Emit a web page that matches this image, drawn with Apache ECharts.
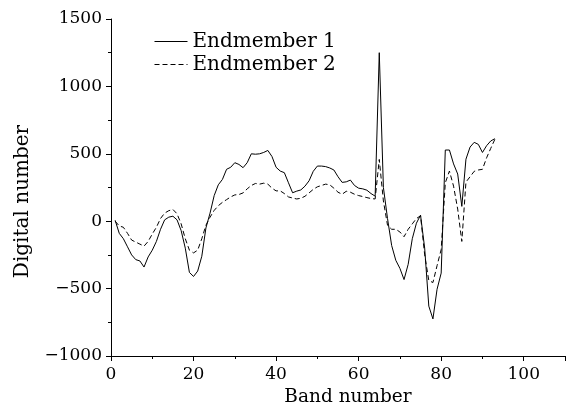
<!DOCTYPE html>
<html>
<head>
<meta charset="utf-8">
<script src="https://cdn.jsdelivr.net/npm/echarts@6/dist/echarts.min.js"></script>
<style>
  html, body { margin: 0; padding: 0; background: #fff; }
  #chart { width: 571px; height: 412px; }
</style>
</head>
<body>
<div id="chart"></div>
<script>
// band numbers 1..93
const bands = [
  1, 2, 3, 4, 5, 6, 7, 8, 9, 10, 11, 12, 13, 14, 15, 16, 17, 18, 19, 20,
  21, 22, 23, 24, 25, 26, 27, 28, 29, 30, 31, 32, 33, 34, 35, 36, 37, 38, 39, 40,
  41, 42, 43, 44, 45, 46, 47, 48, 49, 50, 51, 52, 53, 54, 55, 56, 57, 58, 59, 60,
  61, 62, 63, 64, 65, 66, 67, 68, 69, 70, 71, 72, 73, 74, 75, 76, 77, 78, 79, 80,
  81, 82, 83, 84, 85, 86, 87, 88, 89, 90, 91, 92, 93
];

const endmember1 = [
  7, -90, -130, -190, -250, -285, -295, -340, -265, -215,
  -150, -60, 10, 30, 37, 10, -70, -200, -380, -410,
  -370, -260, -50, 60, 190, 270, 310, 385, 400, 434,
  421, 397, 434, 500, 497, 500, 510, 525, 480, 400,
  372, 360, 285, 211, 223, 232, 260, 300, 370, 409,
  409, 405, 395, 380, 330, 288, 292, 305, 265, 245,
  240, 230, 205, 186, 1250, 250, 20, -180, -290, -350,
  -433, -320, -130, -15, 45, -200, -630, -725, -505, -385,
  528, 528, 425, 350, 110, 460, 550, 585, 570, 510,
  560, 595, 612
];

const endmember2 = [
  0, -35, -45, -90, -140, -155, -170, -185, -150, -95,
  -45, 20, 60, 78, 87, 55, -20, -130, -215, -235,
  -215, -130, -30, 30, 80, 115, 140, 160, 180, 195,
  198, 210, 240, 265, 280, 275, 282, 275, 245, 225,
  225, 205, 180, 172, 165, 170, 185, 210, 236, 255,
  265, 275, 270, 245, 215, 200, 222, 215, 200, 190,
  183, 175, 168, 165, 458, 150, -30, -60, -60, -80,
  -115, -60, -20, 20, 40, -250, -440, -455, -330, -210,
  285, 372, 260, 90, -150, 290, 330, 370, 380, 385,
  470, 540, 607
];

const seriesNames = ["Endmember 1", "Endmember 2"];

const font = "'DejaVu Serif', serif";

function pairs(vals) {
  return bands.map((b, i) => [b, vals[i]]);
}

const myChart = echarts.init(document.getElementById("chart"), null, { renderer: "canvas" });

myChart.setOption({
  animation: false,
  backgroundColor: "#fff",
  grid: { left: 111, right: 6, top: 19, bottom: 55 },
  legend: {
    orient: "vertical",
    left: 149,
    top: 25,
    itemWidth: 33,
    itemHeight: 10,
    itemGap: 0,
    itemStyle: { opacity: 0 },
    lineStyle: { width: 1 },
    textStyle: { fontFamily: font, fontSize: 20, color: "#000", lineHeight: 23 },
    data: seriesNames
  },
  xAxis: {
    type: "value",
    min: 0,
    max: 110,
    interval: 20,
    name: "Band number",
    nameLocation: "middle",
    nameGap: 32,
    nameTextStyle: { fontFamily: font, fontSize: 18.5, color: "#000", padding: [0, 0, 0, 20] },
    axisLine: { show: true, onZero: false, lineStyle: { color: "#000", width: 1 } },
    axisTick: { show: true, length: 5, lineStyle: { color: "#000" } },
    minorTick: { show: true, splitNumber: 2, length: 3, lineStyle: { color: "#000" } },
    axisLabel: {
      fontFamily: font, fontSize: 17, color: "#000", margin: 10,
      formatter: (v) => (v > 100 ? "" : String(v))
    },
    splitLine: { show: false }
  },
  yAxis: {
    type: "value",
    min: -1000,
    max: 1500,
    interval: 500,
    name: "Digital number",
    nameLocation: "middle",
    nameGap: 78,
    nameTextStyle: { fontFamily: font, fontSize: 20, color: "#000", padding: [0, 28, 0, 0] },
    axisLine: { show: true, onZero: false, lineStyle: { color: "#000", width: 1 } },
    axisTick: { show: true, length: 5, lineStyle: { color: "#000" } },
    minorTick: { show: true, splitNumber: 2, length: 3, lineStyle: { color: "#000" } },
    axisLabel: {
      fontFamily: font, fontSize: 17, color: "#000", margin: 9,
      formatter: (v) => String(v).replace("-", "\u2212")
    },
    splitLine: { show: false }
  },
  series: [
    {
      name: seriesNames[0],
      type: "line",
      data: pairs(endmember1),
      symbol: "none",
      lineStyle: { color: "#000", width: 1, type: "solid" },
      itemStyle: { color: "#000" }
    },
    {
      name: seriesNames[1],
      type: "line",
      data: pairs(endmember2),
      symbol: "none",
      lineStyle: { color: "#000", width: 1, type: [5, 3] },
      itemStyle: { color: "#000" }
    }
  ]
});
</script>
</body>
</html>
